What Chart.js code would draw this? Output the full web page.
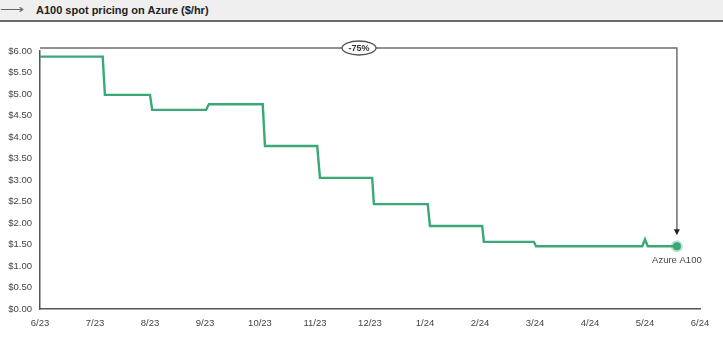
<!DOCTYPE html>
<html>
<head>
<meta charset="utf-8">
<script src="https://cdn.jsdelivr.net/npm/chart.js@4.4.1/dist/chart.umd.min.js"></script>
<style>
  html, body { margin: 0; padding: 0; background: #fff; }
  body { width: 723px; height: 339px; overflow: hidden; font-family: Arial, "Liberation Sans", sans-serif; }
  .hdr { height: 20px; background: #efefef; border-bottom: 2px solid #6b6b6b; position: relative; }
  .hdr .arrow { position: absolute; left: 0; top: 2px; font-size: 13px; color: #666; transform: scaleX(1.3); transform-origin: left; }
  .hdr .title { position: absolute; left: 36px; top: 4px; font-size: 11px; font-weight: bold; color: #222; }
  .wrap { position: absolute; left: 0; top: 22px; width: 723px; height: 317px; }
</style>
</head>
<body>
<div class="hdr"><span class="arrow">&#x27F6;</span><span class="title">A100 spot pricing on Azure ($/hr)</span></div>
<div class="wrap"><canvas id="priceChart"></canvas></div>
<script>
// months since 6/23
const monthLabels = ['6/23','7/23','8/23','9/23','10/23','11/23','12/23','1/24','2/24','3/24','4/24','5/24','6/24'];
const priceX = [0, 1.14, 1.18, 2.00, 2.04, 3.02, 3.07, 4.05, 4.09, 5.04, 5.09, 6.04, 6.07, 7.05, 7.09, 8.04, 8.07, 8.98, 9.02, 10.95, 11.00, 11.05, 11.58];
const priceY = [5.87, 5.87, 4.98, 4.98, 4.63, 4.63, 4.76, 4.76, 3.79, 3.79, 3.05, 3.05, 2.44, 2.44, 1.93, 1.93, 1.56, 1.56, 1.46, 1.46, 1.62, 1.46, 1.46];
const seriesName = 'Azure A100';
const changeLabel = '-75%';
const changeLabelX = 5.8;

const green = '#3aa877';
const points = priceX.map((x, i) => ({ x, y: priceY[i] }));
const last = points.length - 1;

const annotate = {
  id: 'annotate',
  afterDatasetsDraw(chart) {
    const { ctx, chartArea, scales } = chart;
    const p = chart.getDatasetMeta(0).data[last];
    const top = chartArea.top - 3;
    ctx.save();
    // bracket
    ctx.strokeStyle = '#6e6e6e';
    ctx.lineWidth = 1.5;
    ctx.beginPath();
    ctx.moveTo(chartArea.left, top);
    ctx.lineTo(p.x, top);
    ctx.lineTo(p.x, p.y - 13);
    ctx.stroke();
    ctx.fillStyle = '#222';
    ctx.beginPath();
    ctx.moveTo(p.x - 3, p.y - 17);
    ctx.lineTo(p.x + 3, p.y - 17);
    ctx.lineTo(p.x, p.y - 11);
    ctx.closePath();
    ctx.fill();
    // -75% oval
    const cx = scales.x.getPixelForValue(changeLabelX);
    ctx.beginPath();
    ctx.ellipse(cx, top, 17, 7, 0, 0, Math.PI * 2);
    ctx.fillStyle = '#fff';
    ctx.fill();
    ctx.strokeStyle = '#555';
    ctx.lineWidth = 1.3;
    ctx.stroke();
    ctx.fillStyle = '#333';
    ctx.font = 'bold 9px Arial';
    ctx.textAlign = 'center';
    ctx.textBaseline = 'middle';
    ctx.fillText(changeLabel, cx, top + 0.5);
    // series label
    ctx.font = '9.5px Arial';
    ctx.fillStyle = '#444';
    ctx.fillText(seriesName, p.x, p.y + 14);
    ctx.restore();
  }
};

new Chart(document.getElementById('priceChart'), {
  type: 'line',
  data: {
    datasets: [{
      label: seriesName,
      data: points,
      borderColor: green,
      borderWidth: 2.4,
      tension: 0,
      pointRadius: c => c.dataIndex === last ? 4 : 0,
      pointBackgroundColor: green,
      pointBorderColor: 'rgba(58,168,119,0.35)',
      pointBorderWidth: 4,
    }]
  },
  options: {
    responsive: true,
    maintainAspectRatio: false,
    animation: false,
    layout: { padding: { top: 29, right: 23, left: 0, bottom: 0 } },
    plugins: { legend: { display: false }, tooltip: { enabled: false } },
    scales: {
      x: {
        type: 'linear', min: 0, max: 12,
        afterFit: s => { s.height = 30; },
        grid: { display: false },
        border: { color: '#555', width: 1.5 },
        ticks: {
          stepSize: 1, autoSkip: false, maxRotation: 0, padding: 1,
          color: '#444', font: { size: 9.5, family: 'Arial' },
          callback: v => monthLabels[v]
        }
      },
      y: {
        min: 0, max: 6,
        afterFit: s => { s.width = 40; },
        grid: { display: false },
        border: { color: '#555', width: 1.5 },
        ticks: {
          stepSize: 0.5, padding: 0,
          color: '#444', font: { size: 9.5, family: 'Arial' },
          callback: v => '$' + v.toFixed(2)
        }
      }
    }
  },
  plugins: [annotate]
});
</script>
</body>
</html>
